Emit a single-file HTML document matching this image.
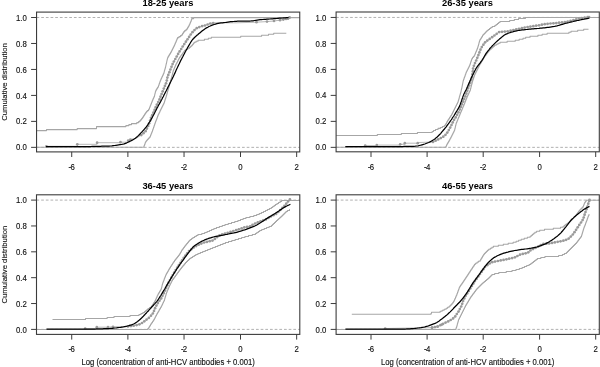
<!DOCTYPE html>
<html><head><meta charset="utf-8"><style>
html,body{margin:0;padding:0;background:#fff;width:600px;height:367px;overflow:hidden}
svg{display:block;will-change:transform;filter:blur(0.3px)}
text{font-family:"Liberation Sans",sans-serif;fill:#111;stroke:#111;stroke-width:0.12px}
.tk{font-size:7.8px}
.ti{font-size:9.35px;font-weight:bold;fill:#000;stroke:none}
.yl{font-size:7.7px}
.xl{font-size:7.7px}
</style></head><body>
<svg width="600" height="367" viewBox="0 0 600 367">
<rect width="600" height="367" fill="#fff"/>
<line x1="36.55" y1="147.35" x2="299.8" y2="147.35" stroke="#a8a8a8" stroke-width="0.9" stroke-dasharray="2.7 1.97"/>
<line x1="36.55" y1="17.5" x2="299.8" y2="17.5" stroke="#a8a8a8" stroke-width="0.9" stroke-dasharray="2.7 1.97"/>
<polyline points="36.5,130.6 46.5,130.6 46.5,129.6 77.2,129.6 77.2,128.6 96.5,128.6 96.5,127.6 96.5,127.6 96.5,126.6 125.9,126.6 125.9,125.6 128.9,125.6 128.9,124.6 131.5,124.6 131.5,123.6 136.8,123.6 136.8,122.6 138.6,122.6 138.6,121.6 139.9,121.6 139.9,120.6 140.8,120.6 140.8,119.6 141.6,119.6 141.6,118.6 142.4,118.6 142.4,117.6 143.1,117.6 143.1,116.6 143.7,116.6 143.7,115.6 144.4,115.6 144.4,114.6 145.0,114.6 145.0,113.6 145.7,113.6 145.7,112.6 146.4,112.6 146.4,111.6 147.3,111.6 147.3,110.6 148.5,110.6 148.5,109.6 149.1,109.6 149.1,108.6 149.5,108.6 149.5,107.6 149.9,107.6 149.9,106.6 150.3,106.6 150.3,105.6 150.7,105.6 150.7,104.6 151.1,104.6 151.1,103.6 151.5,103.6 151.5,102.6 151.9,102.6 151.9,101.6 152.3,101.6 152.3,100.6 152.7,100.6 152.7,99.6 153.1,99.6 153.1,98.6 153.6,98.6 153.6,97.6 154.0,97.6 154.0,96.6 154.5,96.6 154.5,95.6 154.7,95.6 154.7,94.6 154.9,94.6 154.9,93.6 155.2,93.6 155.2,92.6 155.4,92.6 155.4,91.6 155.7,91.6 155.7,90.6 156.2,90.6 156.2,89.6 156.8,89.6 156.8,88.6 157.4,88.6 157.4,87.6 158.1,87.6 158.1,86.6 158.5,86.6 158.5,85.6 158.9,85.6 158.9,84.6 159.2,84.6 159.2,83.6 159.6,83.6 159.6,82.6 159.9,82.6 159.9,81.6 160.3,81.6 160.3,80.6 160.7,80.6 160.7,79.6 161.1,79.6 161.1,78.6 161.6,78.6 161.6,77.6 162.0,77.6 162.0,76.6 162.5,76.6 162.5,75.6 163.0,75.6 163.0,74.6 163.4,74.6 163.4,73.6 163.9,73.6 163.9,72.6 164.2,72.6 164.2,71.6 164.4,71.6 164.4,70.6 164.7,70.6 164.7,69.6 165.0,69.6 165.0,68.6 165.3,68.6 165.3,67.6 165.6,67.6 165.6,66.6 165.8,66.6 165.8,65.6 166.0,65.6 166.0,64.6 166.2,64.6 166.2,63.6 166.5,63.6 166.5,62.6 166.7,62.6 166.7,61.6 166.9,61.6 166.9,60.6 167.1,60.6 167.1,59.6 167.4,59.6 167.4,58.6 167.6,58.6 167.6,57.6 168.1,57.6 168.1,56.6 168.7,56.6 168.7,55.6 169.3,55.6 169.3,54.6 169.9,54.6 169.9,53.6 170.5,53.6 170.5,52.6 171.1,52.6 171.1,51.6 171.6,51.6 171.6,50.6 172.1,50.6 172.1,49.6 172.6,49.6 172.6,48.6 173.1,48.6 173.1,47.6 173.6,47.6 173.6,46.6 174.1,46.6 174.1,45.6 174.6,45.6 174.6,44.6 175.0,44.6 175.0,43.6 175.4,43.6 175.4,42.6 175.9,42.6 175.9,41.6 176.3,41.6 176.3,40.6 176.7,40.6 176.7,39.6 177.1,39.6 177.1,38.6 177.6,38.6 177.6,37.6 179.0,37.6 179.0,36.6 180.5,36.6 180.5,35.6 181.9,35.6 181.9,34.6 182.5,34.6 182.5,33.6 183.2,33.6 183.2,32.6 183.8,32.6 183.8,31.6 184.7,31.6 184.7,30.6 186.0,30.6 186.0,29.6 187.0,29.6 187.0,28.6 187.6,28.6 187.6,27.6 188.2,27.6 188.2,26.6 188.8,26.6 188.8,25.6 189.3,25.6 189.3,24.6 189.8,24.6 189.8,23.6 190.2,23.6 190.2,22.6 190.6,22.6 190.6,21.6 191.1,21.6 191.1,20.6 191.4,20.6 191.4,19.6 191.7,19.6 191.7,18.6 193.6,18.6 193.6,17.6 299.8,17.6" fill="none" stroke="#a6a6a6" stroke-width="1.05" stroke-linejoin="round"/>
<polyline points="36.5,147.3 143.9,147.3 143.9,146.3 144.2,146.3 144.2,145.3 144.6,145.3 144.6,144.3 145.0,144.3 145.0,143.3 145.3,143.3 145.3,142.3 145.8,142.3 145.8,141.3 146.6,141.3 146.6,140.3 147.4,140.3 147.4,139.3 148.4,139.3 148.4,138.3 149.3,138.3 149.3,137.3 150.1,137.3 150.1,136.3 150.5,136.3 150.5,135.3 150.9,135.3 150.9,134.3 151.3,134.3 151.3,133.3 151.7,133.3 151.7,132.3 152.1,132.3 152.1,131.3 152.5,131.3 152.5,130.3 152.8,130.3 152.8,129.3 153.2,129.3 153.2,128.3 153.5,128.3 153.5,127.3 153.9,127.3 153.9,126.3 154.2,126.3 154.2,125.3 154.6,125.3 154.6,124.3 154.9,124.3 154.9,123.3 155.3,123.3 155.3,122.3 155.6,122.3 155.6,121.3 156.0,121.3 156.0,120.3 156.4,120.3 156.4,119.3 156.8,119.3 156.8,118.3 157.2,118.3 157.2,117.3 157.5,117.3 157.5,116.3 157.9,116.3 157.9,115.3 158.3,115.3 158.3,114.3 158.8,114.3 158.8,113.3 159.3,113.3 159.3,112.3 159.8,112.3 159.8,111.3 160.2,111.3 160.2,110.3 160.7,110.3 160.7,109.3 161.2,109.3 161.2,108.3 161.7,108.3 161.7,107.3 162.2,107.3 162.2,106.3 162.7,106.3 162.7,105.3 163.2,105.3 163.2,104.3 163.7,104.3 163.7,103.3 164.2,103.3 164.2,102.3 164.5,102.3 164.5,101.3 164.8,101.3 164.8,100.3 165.1,100.3 165.1,99.3 165.4,99.3 165.4,98.3 165.8,98.3 165.8,97.3 166.1,97.3 166.1,96.3 166.4,96.3 166.4,95.3 166.7,95.3 166.7,94.3 167.0,94.3 167.0,93.3 167.3,93.3 167.3,92.3 167.5,92.3 167.5,91.3 167.8,91.3 167.8,90.3 168.1,90.3 168.1,89.3 168.4,89.3 168.4,88.3 168.7,88.3 168.7,87.3 169.0,87.3 169.0,86.3 169.3,86.3 169.3,85.3 169.5,85.3 169.5,84.3 169.8,84.3 169.8,83.3 170.1,83.3 170.1,82.3 170.4,82.3 170.4,81.3 170.7,81.3 170.7,80.3 170.9,80.3 170.9,79.3 171.2,79.3 171.2,78.3 171.5,78.3 171.5,77.3 171.7,77.3 171.7,76.3 172.0,76.3 172.0,75.3 172.3,75.3 172.3,74.3 172.5,74.3 172.5,73.3 172.8,73.3 172.8,72.3 173.0,72.3 173.0,71.3 173.3,71.3 173.3,70.3 173.7,70.3 173.7,69.3 174.1,69.3 174.1,68.3 174.5,68.3 174.5,67.3 175.0,67.3 175.0,66.3 175.4,66.3 175.4,65.3 175.8,65.3 175.8,64.3 176.3,64.3 176.3,63.3 176.9,63.3 176.9,62.3 177.4,62.3 177.4,61.3 177.9,61.3 177.9,60.3 178.4,60.3 178.4,59.3 178.9,59.3 178.9,58.3 179.5,58.3 179.5,57.3 180.3,57.3 180.3,56.3 181.0,56.3 181.0,55.3 181.7,55.3 181.7,54.3 182.5,54.3 182.5,53.3 183.2,53.3 183.2,52.3 183.9,52.3 183.9,51.3 184.6,51.3 184.6,50.3 186.0,50.3 186.0,49.3 187.8,49.3 187.8,48.3 189.5,48.3 189.5,47.3 190.6,47.3 190.6,46.3 191.7,46.3 191.7,45.3 192.6,45.3 192.6,44.3 193.4,44.3 193.4,43.3 194.2,43.3 194.2,42.3 196.0,42.3 196.0,41.3 198.0,41.3 198.0,40.3 204.4,40.3 204.4,39.3 208.3,39.3 208.3,38.3 211.3,38.3 211.3,37.3 240.7,37.3 240.7,36.3 261.6,36.3 261.6,35.3 268.5,35.3 268.5,34.3 273.7,34.3 273.7,33.3 286.3,33.3" fill="none" stroke="#a6a6a6" stroke-width="1.05" stroke-linejoin="round"/>
<polyline points="46.4,146.3 77.3,146.3 77.3,144.3 97.1,144.3 97.1,142.7 120.5,142.7 120.5,142.2 128.2,142.2 128.2,140.5 130.4,140.5 130.4,139.5 135.8,138.4 141.3,135.1 145.6,131.3 148.7,125.0 150.7,118.5 153.6,112.2 156.5,105.5 159.3,99.8 161.2,95.0 163.1,90.4 166.4,82.3 167.6,76.5 169.6,71.6 173.1,63.0 178.3,53.5 183.5,45.3 187.5,39.2 191.5,33.3 196.0,28.5 200.6,26.5 205.6,25.3 210.6,23.4 214.3,22.8 236.7,22.8 256.5,22.2 267.0,21.6 274.0,21.0 283.3,19.6 288.0,18.7 289.5,17.5" fill="none" stroke="#b0b0b0" stroke-width="0.9"/>
<g fill="#9a9a9a"><circle cx="46.4" cy="146.3" r="1.35"/><circle cx="77.3" cy="144.3" r="1.35"/><circle cx="97.1" cy="142.7" r="1.35"/><circle cx="120.5" cy="142.2" r="1.35"/><circle cx="128.2" cy="140.5" r="1.35"/><circle cx="130.4" cy="139.5" r="1.35"/><circle cx="141.3" cy="135.1" r="1.35"/><circle cx="143.5" cy="133.2" r="1.35"/><circle cx="145.6" cy="131.2" r="1.35"/><circle cx="146.9" cy="128.6" r="1.35"/><circle cx="148.2" cy="126.0" r="1.35"/><circle cx="149.2" cy="123.3" r="1.35"/><circle cx="150.1" cy="120.6" r="1.35"/><circle cx="151.0" cy="117.8" r="1.35"/><circle cx="152.2" cy="115.2" r="1.35"/><circle cx="153.4" cy="112.6" r="1.35"/><circle cx="154.6" cy="109.9" r="1.35"/><circle cx="155.7" cy="107.2" r="1.35"/><circle cx="156.9" cy="104.6" r="1.35"/><circle cx="158.2" cy="102.0" r="1.35"/><circle cx="159.5" cy="99.4" r="1.35"/><circle cx="160.5" cy="96.7" r="1.35"/><circle cx="161.6" cy="94.0" r="1.35"/><circle cx="162.7" cy="91.3" r="1.35"/><circle cx="163.8" cy="88.6" r="1.35"/><circle cx="164.9" cy="85.9" r="1.35"/><circle cx="166.0" cy="83.3" r="1.35"/><circle cx="166.8" cy="80.5" r="1.35"/><circle cx="167.4" cy="77.6" r="1.35"/><circle cx="168.3" cy="74.9" r="1.35"/><circle cx="169.4" cy="72.2" r="1.35"/><circle cx="170.4" cy="69.5" r="1.35"/><circle cx="171.5" cy="66.8" r="1.35"/><circle cx="172.6" cy="64.1" r="1.35"/><circle cx="173.9" cy="61.5" r="1.35"/><circle cx="175.3" cy="59.0" r="1.35"/><circle cx="176.7" cy="56.5" r="1.35"/><circle cx="178.1" cy="53.9" r="1.35"/><circle cx="179.6" cy="51.4" r="1.35"/><circle cx="181.2" cy="49.0" r="1.35"/><circle cx="182.7" cy="46.5" r="1.35"/><circle cx="184.3" cy="44.1" r="1.35"/><circle cx="185.9" cy="41.7" r="1.35"/><circle cx="187.5" cy="39.3" r="1.35"/><circle cx="189.1" cy="36.9" r="1.35"/><circle cx="190.7" cy="34.5" r="1.35"/><circle cx="192.5" cy="32.2" r="1.35"/><circle cx="194.5" cy="30.1" r="1.35"/><circle cx="196.7" cy="28.2" r="1.35"/><circle cx="199.3" cy="27.1" r="1.35"/><circle cx="202.1" cy="26.1" r="1.35"/><circle cx="204.9" cy="25.5" r="1.35"/><circle cx="207.6" cy="24.5" r="1.35"/><circle cx="210.3" cy="23.5" r="1.35"/><circle cx="213.2" cy="23.0" r="1.35"/><circle cx="256.5" cy="22.2" r="1.35"/><circle cx="267.0" cy="21.6" r="1.35"/><circle cx="274.0" cy="21.0" r="1.35"/><circle cx="280.0" cy="20.2" r="1.35"/><circle cx="283.3" cy="19.6" r="1.35"/><circle cx="286.0" cy="19.0" r="1.35"/><circle cx="288.0" cy="18.7" r="1.35"/><circle cx="289.5" cy="17.5" r="1.35"/><circle cx="289.5" cy="17.5" r="1.35"/></g>
<polyline points="46.0,146.6 47.4,146.6 48.8,146.6 50.2,146.6 51.6,146.6 53.0,146.6 54.4,146.6 55.8,146.6 57.2,146.6 58.6,146.6 60.0,146.6 61.4,146.6 62.8,146.6 64.2,146.6 65.6,146.6 67.0,146.6 68.4,146.5 69.8,146.5 71.2,146.5 72.6,146.5 74.0,146.5 75.4,146.5 76.8,146.5 78.2,146.5 79.6,146.5 81.0,146.5 82.4,146.5 83.8,146.5 85.2,146.5 86.6,146.5 88.0,146.5 89.4,146.5 90.8,146.5 92.2,146.4 93.6,146.4 95.0,146.4 96.4,146.4 97.8,146.3 99.2,146.3 100.6,146.3 102.0,146.2 103.4,146.2 104.8,146.2 106.2,146.1 107.6,146.1 109.0,146.1 110.4,146.0 111.8,145.9 113.2,145.7 114.6,145.5 115.9,145.3 117.3,145.1 118.7,144.9 120.1,144.7 121.5,144.5 122.8,144.2 124.2,143.8 125.5,143.3 126.8,142.8 128.0,142.2 129.3,141.6 130.6,141.0 131.8,140.4 133.0,139.7 134.2,139.0 135.4,138.2 136.5,137.3 137.6,136.4 138.6,135.5 139.5,134.5 140.5,133.4 141.4,132.4 142.4,131.4 143.3,130.3 144.2,129.3 145.2,128.2 146.1,127.2 146.9,126.0 147.7,124.9 148.5,123.7 149.2,122.5 150.0,121.4 150.7,120.2 151.4,118.9 152.1,117.7 152.7,116.5 153.4,115.3 154.1,114.0 154.7,112.8 155.3,111.5 156.0,110.3 156.6,109.0 157.2,107.8 157.9,106.6 158.5,105.3 159.2,104.1 159.9,102.9 160.6,101.6 161.2,100.4 161.9,99.2 162.5,97.9 163.2,96.7 163.8,95.4 164.4,94.2 165.1,92.9 165.7,91.7 166.4,90.5 167.0,89.2 167.6,87.9 168.2,86.7 168.9,85.4 169.5,84.2 170.1,82.9 170.7,81.7 171.3,80.4 172.0,79.2 172.6,77.9 173.2,76.7 173.8,75.4 174.4,74.1 175.0,72.9 175.6,71.6 176.1,70.3 176.7,69.0 177.3,67.8 177.9,66.5 178.5,65.2 179.1,64.0 179.7,62.7 180.3,61.4 180.9,60.2 181.6,58.9 182.2,57.7 182.9,56.5 183.5,55.2 184.2,54.0 184.8,52.7 185.5,51.5 186.1,50.3 186.8,49.1 187.5,47.8 188.2,46.6 188.9,45.4 189.6,44.2 190.3,43.0 191.0,41.8 191.8,40.6 192.6,39.5 193.6,38.5 194.5,37.5 195.6,36.5 196.6,35.6 197.7,34.7 198.7,33.8 199.8,32.9 200.9,32.0 202.0,31.1 203.1,30.2 204.2,29.4 205.4,28.6 206.5,27.9 207.8,27.2 209.0,26.5 210.3,26.0 211.5,25.4 212.9,24.9 214.2,24.5 215.5,24.1 216.9,23.7 218.2,23.4 219.6,23.1 221.0,22.9 222.4,22.8 223.8,22.6 225.2,22.5 226.5,22.3 227.9,22.1 229.3,21.9 230.7,21.7 232.1,21.6 233.5,21.5 234.9,21.4 236.3,21.3 237.7,21.2 239.1,21.2 240.5,21.1 241.9,21.1 243.3,21.1 244.7,21.1 246.1,21.0 247.5,21.0 248.9,21.0 250.3,21.0 251.7,20.9 253.1,20.8 254.4,20.5 255.8,20.3 257.2,20.1 258.6,19.9 260.0,19.7 261.4,19.6 262.8,19.5 264.2,19.4 265.6,19.3 267.0,19.2 268.4,19.1 269.7,19.0 271.1,18.9 272.5,18.8 273.9,18.7 275.3,18.6 276.7,18.5 278.1,18.3 279.5,18.2 280.9,18.1 282.3,18.0 283.7,17.9 285.1,17.8 286.4,17.7 287.6,17.6 288.6,17.5" fill="none" stroke="#000" stroke-width="1.25" stroke-linejoin="round"/>
<rect x="36.55" y="12.1" width="263.2" height="139.8" fill="none" stroke="#3c3c3c" stroke-width="1.1"/>
<line x1="31.1" y1="147.35" x2="36.55" y2="147.35" stroke="#3c3c3c" stroke-width="1"/>
<text transform="translate(26.85,150.45) scale(1,1.06)" text-anchor="end" class="tk">0.0</text>
<line x1="31.1" y1="121.38" x2="36.55" y2="121.38" stroke="#3c3c3c" stroke-width="1"/>
<text transform="translate(26.85,124.48) scale(1,1.06)" text-anchor="end" class="tk">0.2</text>
<line x1="31.1" y1="95.41" x2="36.55" y2="95.41" stroke="#3c3c3c" stroke-width="1"/>
<text transform="translate(26.85,98.51) scale(1,1.06)" text-anchor="end" class="tk">0.4</text>
<line x1="31.1" y1="69.44" x2="36.55" y2="69.44" stroke="#3c3c3c" stroke-width="1"/>
<text transform="translate(26.85,72.54) scale(1,1.06)" text-anchor="end" class="tk">0.6</text>
<line x1="31.1" y1="43.47" x2="36.55" y2="43.47" stroke="#3c3c3c" stroke-width="1"/>
<text transform="translate(26.85,46.57) scale(1,1.06)" text-anchor="end" class="tk">0.8</text>
<line x1="31.1" y1="17.50" x2="36.55" y2="17.50" stroke="#3c3c3c" stroke-width="1"/>
<text transform="translate(26.85,20.60) scale(1,1.06)" text-anchor="end" class="tk">1.0</text>
<line x1="71.72" y1="151.85" x2="71.72" y2="157.0" stroke="#3c3c3c" stroke-width="1"/>
<text transform="translate(71.72,169.85) scale(1,1.06)" text-anchor="middle" class="tk">-<tspan dx="-0.6">6</tspan></text>
<line x1="127.88" y1="151.85" x2="127.88" y2="157.0" stroke="#3c3c3c" stroke-width="1"/>
<text transform="translate(127.88,169.85) scale(1,1.06)" text-anchor="middle" class="tk">-<tspan dx="-0.6">4</tspan></text>
<line x1="184.04" y1="151.85" x2="184.04" y2="157.0" stroke="#3c3c3c" stroke-width="1"/>
<text transform="translate(184.04,169.85) scale(1,1.06)" text-anchor="middle" class="tk">-<tspan dx="-0.6">2</tspan></text>
<line x1="240.50" y1="151.85" x2="240.50" y2="157.0" stroke="#3c3c3c" stroke-width="1"/>
<text transform="translate(240.50,169.85) scale(1,1.06)" text-anchor="middle" class="tk">0</text>
<line x1="296.66" y1="151.85" x2="296.66" y2="157.0" stroke="#3c3c3c" stroke-width="1"/>
<text transform="translate(296.66,169.85) scale(1,1.06)" text-anchor="middle" class="tk">2</text>
<text transform="translate(167.88,6.30) scale(1,1.06)" text-anchor="middle" class="ti">18-25 years</text>
<text transform="translate(6.9,81.97) rotate(-90)" text-anchor="middle" class="yl">Cumulative distribution</text>
<line x1="336.1" y1="147.35" x2="599.3" y2="147.35" stroke="#a8a8a8" stroke-width="0.9" stroke-dasharray="2.7 1.97"/>
<line x1="336.1" y1="17.45" x2="599.3" y2="17.45" stroke="#a8a8a8" stroke-width="0.9" stroke-dasharray="2.7 1.97"/>
<polyline points="336.1,135.4 377.3,135.4 377.3,134.4 401.3,134.4 401.3,133.4 417.4,133.4 417.4,132.4 432.1,132.4 432.1,131.4 433.5,131.4 433.5,130.4 435.5,130.4 435.5,129.4 438.0,129.4 438.0,128.4 440.4,128.4 440.4,127.4 442.4,127.4 442.4,126.4 444.3,126.4 444.3,125.4 445.3,125.4 445.3,124.4 445.9,124.4 445.9,123.4 446.5,123.4 446.5,122.4 447.0,122.4 447.0,121.4 447.6,121.4 447.6,120.4 448.2,120.4 448.2,119.4 448.9,119.4 448.9,118.4 449.5,118.4 449.5,117.4 450.2,117.4 450.2,116.4 450.8,116.4 450.8,115.4 451.5,115.4 451.5,114.4 452.0,114.4 452.0,113.4 452.5,113.4 452.5,112.4 453.0,112.4 453.0,111.4 453.5,111.4 453.5,110.4 454.0,110.4 454.0,109.4 454.5,109.4 454.5,108.4 455.0,108.4 455.0,107.4 455.5,107.4 455.5,106.4 456.0,106.4 456.0,105.4 456.5,105.4 456.5,104.4 457.0,104.4 457.0,103.4 457.5,103.4 457.5,102.4 458.0,102.4 458.0,101.4 458.3,101.4 458.3,100.4 458.6,100.4 458.6,99.4 458.9,99.4 458.9,98.4 459.2,98.4 459.2,97.4 459.4,97.4 459.4,96.4 459.7,96.4 459.7,95.4 460.0,95.4 460.0,94.4 460.3,94.4 460.3,93.4 460.6,93.4 460.6,92.4 460.9,92.4 460.9,91.4 461.1,91.4 461.1,90.4 461.3,90.4 461.3,89.4 461.5,89.4 461.5,88.4 461.8,88.4 461.8,87.4 462.0,87.4 462.0,86.4 462.2,86.4 462.2,85.4 462.4,85.4 462.4,84.4 462.6,84.4 462.6,83.4 462.8,83.4 462.8,82.4 463.0,82.4 463.0,81.4 463.2,81.4 463.2,80.4 463.5,80.4 463.5,79.4 463.9,79.4 463.9,78.4 464.2,78.4 464.2,77.4 464.6,77.4 464.6,76.4 465.0,76.4 465.0,75.4 465.3,75.4 465.3,74.4 465.7,74.4 465.7,73.4 466.0,73.4 466.0,72.4 466.4,72.4 466.4,71.4 466.9,71.4 466.9,70.4 467.4,70.4 467.4,69.4 467.9,69.4 467.9,68.4 468.4,68.4 468.4,67.4 468.9,67.4 468.9,66.4 469.4,66.4 469.4,65.4 469.8,65.4 469.8,64.4 470.2,64.4 470.2,63.4 470.5,63.4 470.5,62.4 470.8,62.4 470.8,61.4 471.2,61.4 471.2,60.4 471.5,60.4 471.5,59.4 471.9,59.4 471.9,58.4 472.5,58.4 472.5,57.4 473.3,57.4 473.3,56.4 474.2,56.4 474.2,55.4 474.7,55.4 474.7,54.4 475.1,54.4 475.1,53.4 475.5,53.4 475.5,52.4 475.9,52.4 475.9,51.4 476.4,51.4 476.4,50.4 476.8,50.4 476.8,49.4 477.2,49.4 477.2,48.4 477.6,48.4 477.6,47.4 477.9,47.4 477.9,46.4 478.2,46.4 478.2,45.4 478.5,45.4 478.5,44.4 478.8,44.4 478.8,43.4 479.0,43.4 479.0,42.4 479.3,42.4 479.3,41.4 479.6,41.4 479.6,40.4 480.0,40.4 480.0,39.4 480.7,39.4 480.7,38.4 481.3,38.4 481.3,37.4 481.9,37.4 481.9,36.4 482.5,36.4 482.5,35.4 483.1,35.4 483.1,34.4 484.1,34.4 484.1,33.4 485.1,33.4 485.1,32.4 486.0,32.4 486.0,31.4 487.0,31.4 487.0,30.4 488.2,30.4 488.2,29.4 489.5,29.4 489.5,28.4 490.8,28.4 490.8,27.4 492.2,27.4 492.2,26.4 494.8,26.4 494.8,25.4 496.1,25.4 496.1,24.4 497.4,24.4 497.4,23.4 498.6,23.4 498.6,22.4 499.9,22.4 499.9,21.4 509.7,21.4 509.7,20.4 514.3,20.4 514.3,19.4 518.5,19.4 518.5,18.4 525.4,18.4 525.4,17.4 599.3,17.4" fill="none" stroke="#a6a6a6" stroke-width="1.05" stroke-linejoin="round"/>
<polyline points="336.1,147.3 445.9,147.3 445.9,146.3 446.4,146.3 446.4,145.3 446.8,145.3 446.8,144.3 447.4,144.3 447.4,143.3 448.0,143.3 448.0,142.3 448.6,142.3 448.6,141.3 449.2,141.3 449.2,140.3 449.7,140.3 449.7,139.3 450.2,139.3 450.2,138.3 450.8,138.3 450.8,137.3 451.3,137.3 451.3,136.3 451.8,136.3 451.8,135.3 452.3,135.3 452.3,134.3 452.8,134.3 452.8,133.3 453.3,133.3 453.3,132.3 453.8,132.3 453.8,131.3 454.3,131.3 454.3,130.3 454.7,130.3 454.7,129.3 454.9,129.3 454.9,128.3 455.2,128.3 455.2,127.3 455.4,127.3 455.4,126.3 455.6,126.3 455.6,125.3 455.9,125.3 455.9,124.3 456.1,124.3 456.1,123.3 456.4,123.3 456.4,122.3 456.9,122.3 456.9,121.3 457.3,121.3 457.3,120.3 457.7,120.3 457.7,119.3 458.1,119.3 458.1,118.3 458.5,118.3 458.5,117.3 459.0,117.3 459.0,116.3 459.4,116.3 459.4,115.3 459.8,115.3 459.8,114.3 460.2,114.3 460.2,113.3 460.6,113.3 460.6,112.3 461.0,112.3 461.0,111.3 461.5,111.3 461.5,110.3 461.9,110.3 461.9,109.3 462.3,109.3 462.3,108.3 462.7,108.3 462.7,107.3 463.1,107.3 463.1,106.3 463.6,106.3 463.6,105.3 464.0,105.3 464.0,104.3 464.4,104.3 464.4,103.3 464.8,103.3 464.8,102.3 465.2,102.3 465.2,101.3 465.6,101.3 465.6,100.3 466.0,100.3 466.0,99.3 466.4,99.3 466.4,98.3 466.8,98.3 466.8,97.3 467.2,97.3 467.2,96.3 467.6,96.3 467.6,95.3 468.1,95.3 468.1,94.3 468.6,94.3 468.6,93.3 469.0,93.3 469.0,92.3 469.5,92.3 469.5,91.3 470.0,91.3 470.0,90.3 470.4,90.3 470.4,89.3 470.6,89.3 470.6,88.3 470.9,88.3 470.9,87.3 471.1,87.3 471.1,86.3 471.4,86.3 471.4,85.3 471.6,85.3 471.6,84.3 471.9,84.3 471.9,83.3 472.2,83.3 472.2,82.3 472.4,82.3 472.4,81.3 472.7,81.3 472.7,80.3 473.0,80.3 473.0,79.3 473.4,79.3 473.4,78.3 473.7,78.3 473.7,77.3 474.0,77.3 474.0,76.3 474.4,76.3 474.4,75.3 474.7,75.3 474.7,74.3 475.2,74.3 475.2,73.3 475.7,73.3 475.7,72.3 476.2,72.3 476.2,71.3 476.7,71.3 476.7,70.3 477.2,70.3 477.2,69.3 477.7,69.3 477.7,68.3 478.2,68.3 478.2,67.3 478.7,67.3 478.7,66.3 479.2,66.3 479.2,65.3 479.7,65.3 479.7,64.3 480.3,64.3 480.3,63.3 480.9,63.3 480.9,62.3 481.5,62.3 481.5,61.3 482.1,61.3 482.1,60.3 482.7,60.3 482.7,59.3 483.3,59.3 483.3,58.3 483.9,58.3 483.9,57.3 484.5,57.3 484.5,56.3 485.2,56.3 485.2,55.3 486.0,55.3 486.0,54.3 486.7,54.3 486.7,53.3 487.5,53.3 487.5,52.3 488.2,52.3 488.2,51.3 489.0,51.3 489.0,50.3 489.9,50.3 489.9,49.3 491.1,49.3 491.1,48.3 492.2,48.3 492.2,47.3 493.3,47.3 493.3,46.3 494.5,46.3 494.5,45.3 496.1,45.3 496.1,44.3 498.0,44.3 498.0,43.3 500.0,43.3 500.0,42.3 507.1,42.3 507.1,41.3 515.2,41.3 515.2,40.3 519.1,40.3 519.1,39.3 523.0,39.3 523.0,38.3 525.7,38.3 525.7,37.3 530.0,37.3 530.0,36.3 537.9,36.3 537.9,35.3 542.1,35.3 542.1,34.3 547.1,34.3 547.1,33.3 568.9,33.3 568.9,32.3 571.0,32.3 571.0,31.3 577.7,31.3 577.7,30.3 583.7,30.3 583.7,29.3 588.5,29.3" fill="none" stroke="#a6a6a6" stroke-width="1.05" stroke-linejoin="round"/>
<polyline points="365.2,145.6 376.8,145.6 376.8,145.1 400.2,145.1 400.2,144.3 404.8,144.3 404.8,143.2 417.7,143.2 419.0,142.5 433.0,142.0 438.0,139.5 443.0,137.0 446.5,134.0 449.8,128.5 453.1,121.5 456.5,116.0 459.5,110.0 462.5,103.0 465.9,94.7 469.0,86.0 472.0,78.0 473.3,67.1 477.6,57.2 480.9,48.5 485.3,42.0 490.7,38.2 495.0,35.1 498.9,32.1 508.7,31.2 514.6,29.7 519.5,28.7 526.4,27.2 532.3,26.3 539.1,25.3 544.0,24.3 550.0,23.5 557.0,23.0 565.0,22.0 570.0,21.0 580.0,18.5 589.0,17.0" fill="none" stroke="#b0b0b0" stroke-width="0.9"/>
<g fill="#9a9a9a"><circle cx="365.2" cy="145.6" r="1.35"/><circle cx="376.8" cy="145.1" r="1.35"/><circle cx="400.2" cy="144.3" r="1.35"/><circle cx="404.8" cy="143.2" r="1.35"/><circle cx="417.7" cy="143.2" r="1.35"/><circle cx="433.0" cy="142.0" r="1.35"/><circle cx="435.6" cy="140.7" r="1.35"/><circle cx="438.2" cy="139.4" r="1.35"/><circle cx="440.8" cy="138.1" r="1.35"/><circle cx="443.3" cy="136.7" r="1.35"/><circle cx="445.5" cy="134.8" r="1.35"/><circle cx="447.3" cy="132.6" r="1.35"/><circle cx="448.8" cy="130.1" r="1.35"/><circle cx="450.2" cy="127.6" r="1.35"/><circle cx="451.5" cy="125.0" r="1.35"/><circle cx="452.7" cy="122.4" r="1.35"/><circle cx="454.1" cy="119.8" r="1.35"/><circle cx="455.7" cy="117.4" r="1.35"/><circle cx="457.1" cy="114.8" r="1.35"/><circle cx="458.4" cy="112.3" r="1.35"/><circle cx="459.7" cy="109.6" r="1.35"/><circle cx="460.8" cy="107.0" r="1.35"/><circle cx="461.9" cy="104.3" r="1.35"/><circle cx="463.1" cy="101.6" r="1.35"/><circle cx="464.2" cy="99.0" r="1.35"/><circle cx="465.3" cy="96.3" r="1.35"/><circle cx="466.3" cy="93.6" r="1.35"/><circle cx="467.3" cy="90.8" r="1.35"/><circle cx="468.2" cy="88.1" r="1.35"/><circle cx="469.2" cy="85.4" r="1.35"/><circle cx="470.3" cy="82.7" r="1.35"/><circle cx="471.3" cy="79.9" r="1.35"/><circle cx="472.1" cy="77.2" r="1.35"/><circle cx="472.4" cy="74.3" r="1.35"/><circle cx="472.8" cy="71.4" r="1.35"/><circle cx="473.1" cy="68.5" r="1.35"/><circle cx="473.9" cy="65.8" r="1.35"/><circle cx="475.0" cy="63.1" r="1.35"/><circle cx="476.2" cy="60.5" r="1.35"/><circle cx="477.3" cy="57.8" r="1.35"/><circle cx="478.4" cy="55.1" r="1.35"/><circle cx="479.4" cy="52.4" r="1.35"/><circle cx="480.5" cy="49.7" r="1.35"/><circle cx="481.8" cy="47.1" r="1.35"/><circle cx="483.4" cy="44.7" r="1.35"/><circle cx="485.1" cy="42.3" r="1.35"/><circle cx="487.3" cy="40.6" r="1.35"/><circle cx="489.7" cy="38.9" r="1.35"/><circle cx="492.1" cy="37.2" r="1.35"/><circle cx="494.4" cy="35.5" r="1.35"/><circle cx="496.7" cy="33.8" r="1.35"/><circle cx="499.1" cy="32.1" r="1.35"/><circle cx="502.0" cy="31.8" r="1.35"/><circle cx="504.8" cy="31.6" r="1.35"/><circle cx="507.7" cy="31.3" r="1.35"/><circle cx="510.6" cy="30.7" r="1.35"/><circle cx="513.4" cy="30.0" r="1.35"/><circle cx="516.2" cy="29.4" r="1.35"/><circle cx="519.0" cy="28.8" r="1.35"/><circle cx="521.9" cy="28.2" r="1.35"/><circle cx="524.7" cy="27.6" r="1.35"/><circle cx="527.6" cy="27.0" r="1.35"/><circle cx="530.4" cy="26.6" r="1.35"/><circle cx="533.3" cy="26.2" r="1.35"/><circle cx="536.2" cy="25.7" r="1.35"/><circle cx="539.0" cy="25.3" r="1.35"/><circle cx="541.9" cy="24.7" r="1.35"/><circle cx="544.7" cy="24.2" r="1.35"/><circle cx="547.6" cy="23.8" r="1.35"/><circle cx="550.5" cy="23.5" r="1.35"/><circle cx="553.4" cy="23.3" r="1.35"/><circle cx="556.3" cy="23.1" r="1.35"/><circle cx="559.1" cy="22.7" r="1.35"/><circle cx="562.0" cy="22.4" r="1.35"/><circle cx="564.9" cy="22.0" r="1.35"/><circle cx="567.7" cy="21.5" r="1.35"/><circle cx="570.6" cy="20.9" r="1.35"/><circle cx="573.4" cy="20.2" r="1.35"/><circle cx="576.2" cy="19.4" r="1.35"/><circle cx="579.0" cy="18.7" r="1.35"/><circle cx="581.9" cy="18.2" r="1.35"/><circle cx="584.7" cy="17.7" r="1.35"/><circle cx="587.6" cy="17.2" r="1.35"/><circle cx="589.0" cy="17.0" r="1.35"/></g>
<polyline points="345.3,146.7 346.7,146.7 348.1,146.7 349.5,146.7 350.9,146.7 352.3,146.7 353.7,146.7 355.1,146.7 356.5,146.7 357.9,146.7 359.3,146.6 360.7,146.6 362.1,146.6 363.5,146.6 364.9,146.6 366.3,146.6 367.7,146.6 369.1,146.6 370.5,146.6 371.9,146.6 373.3,146.6 374.7,146.6 376.1,146.6 377.5,146.6 378.9,146.6 380.3,146.6 381.7,146.6 383.1,146.6 384.5,146.6 385.9,146.6 387.3,146.5 388.7,146.5 390.1,146.5 391.5,146.5 392.9,146.5 394.3,146.5 395.7,146.5 397.1,146.5 398.5,146.5 399.9,146.5 401.3,146.5 402.7,146.5 404.1,146.4 405.5,146.4 406.9,146.4 408.3,146.4 409.7,146.4 411.1,146.4 412.5,146.3 413.9,146.3 415.3,146.2 416.7,146.0 418.1,145.8 419.4,145.5 420.8,145.2 422.1,144.8 423.5,144.4 424.8,144.0 426.1,143.5 427.4,143.0 428.7,142.5 430.0,141.9 431.2,141.2 432.4,140.5 433.6,139.8 434.8,139.0 435.8,138.1 436.9,137.2 437.9,136.3 438.9,135.3 439.9,134.3 440.8,133.3 441.7,132.2 442.6,131.1 443.5,130.0 444.4,129.0 445.3,127.9 446.2,126.8 447.0,125.6 447.9,124.5 448.7,123.4 449.5,122.3 450.3,121.1 451.1,120.0 451.9,118.8 452.6,117.6 453.4,116.5 454.2,115.3 454.9,114.1 455.6,112.9 456.4,111.7 457.1,110.5 457.8,109.3 458.5,108.1 459.2,106.9 459.8,105.6 460.3,104.3 460.7,103.0 461.2,101.7 461.7,100.3 462.1,99.0 462.6,97.7 463.0,96.4 463.5,95.1 464.1,93.8 464.7,92.5 465.3,91.3 466.0,90.0 466.6,88.8 467.1,87.5 467.7,86.2 468.2,84.9 468.8,83.6 469.4,82.4 469.9,81.1 470.5,79.8 471.0,78.5 471.6,77.2 472.2,76.0 472.8,74.7 473.5,73.5 474.1,72.2 474.7,71.0 475.4,69.7 476.0,68.5 476.8,67.3 477.6,66.2 478.4,65.1 479.3,64.0 480.2,62.9 481.0,61.7 481.8,60.6 482.6,59.4 483.3,58.2 484.0,57.0 484.7,55.8 485.4,54.6 486.1,53.4 486.9,52.3 487.8,51.2 488.7,50.1 489.5,49.0 490.4,47.9 491.4,46.9 492.3,45.8 493.3,44.9 494.3,43.9 495.3,42.9 496.3,41.9 497.3,41.0 498.4,40.1 499.4,39.1 500.5,38.2 501.6,37.3 502.6,36.4 503.7,35.6 504.9,34.8 506.1,34.1 507.4,33.6 508.7,33.0 510.0,32.6 511.3,32.1 512.7,31.8 514.0,31.4 515.4,31.1 516.7,30.8 518.1,30.5 519.5,30.3 520.9,30.1 522.3,29.9 523.7,29.8 525.1,29.6 526.5,29.5 527.8,29.3 529.2,29.2 530.6,29.1 532.0,28.9 533.4,28.8 534.8,28.7 536.2,28.6 537.6,28.5 539.0,28.4 540.4,28.2 541.8,28.1 543.2,27.9 544.6,27.8 546.0,27.6 547.3,27.4 548.7,27.3 550.1,27.1 551.5,26.9 552.9,26.7 554.3,26.5 555.7,26.2 557.0,25.9 558.3,25.5 559.7,25.1 561.0,24.7 562.4,24.3 563.7,23.9 565.1,23.5 566.4,23.2 567.8,22.8 569.1,22.5 570.5,22.1 571.8,21.8 573.2,21.5 574.6,21.1 575.9,20.8 577.3,20.5 578.7,20.3 580.0,20.0 581.4,19.7 582.8,19.4 584.2,19.2 585.5,18.9 586.9,18.6 588.2,18.3 589.5,18.0" fill="none" stroke="#000" stroke-width="1.25" stroke-linejoin="round"/>
<rect x="336.1" y="12.0" width="263.2" height="139.8" fill="none" stroke="#3c3c3c" stroke-width="1.1"/>
<line x1="330.7" y1="147.35" x2="336.1" y2="147.35" stroke="#3c3c3c" stroke-width="1"/>
<text transform="translate(326.40,150.45) scale(1,1.06)" text-anchor="end" class="tk">0.0</text>
<line x1="330.7" y1="121.37" x2="336.1" y2="121.37" stroke="#3c3c3c" stroke-width="1"/>
<text transform="translate(326.40,124.47) scale(1,1.06)" text-anchor="end" class="tk">0.2</text>
<line x1="330.7" y1="95.39" x2="336.1" y2="95.39" stroke="#3c3c3c" stroke-width="1"/>
<text transform="translate(326.40,98.49) scale(1,1.06)" text-anchor="end" class="tk">0.4</text>
<line x1="330.7" y1="69.41" x2="336.1" y2="69.41" stroke="#3c3c3c" stroke-width="1"/>
<text transform="translate(326.40,72.51) scale(1,1.06)" text-anchor="end" class="tk">0.6</text>
<line x1="330.7" y1="43.43" x2="336.1" y2="43.43" stroke="#3c3c3c" stroke-width="1"/>
<text transform="translate(326.40,46.53) scale(1,1.06)" text-anchor="end" class="tk">0.8</text>
<line x1="330.7" y1="17.45" x2="336.1" y2="17.45" stroke="#3c3c3c" stroke-width="1"/>
<text transform="translate(326.40,20.55) scale(1,1.06)" text-anchor="end" class="tk">1.0</text>
<line x1="371.00" y1="151.85" x2="371.00" y2="157.0" stroke="#3c3c3c" stroke-width="1"/>
<text transform="translate(371.00,169.85) scale(1,1.06)" text-anchor="middle" class="tk">-<tspan dx="-0.6">6</tspan></text>
<line x1="427.10" y1="151.85" x2="427.10" y2="157.0" stroke="#3c3c3c" stroke-width="1"/>
<text transform="translate(427.10,169.85) scale(1,1.06)" text-anchor="middle" class="tk">-<tspan dx="-0.6">4</tspan></text>
<line x1="483.20" y1="151.85" x2="483.20" y2="157.0" stroke="#3c3c3c" stroke-width="1"/>
<text transform="translate(483.20,169.85) scale(1,1.06)" text-anchor="middle" class="tk">-<tspan dx="-0.6">2</tspan></text>
<line x1="539.60" y1="151.85" x2="539.60" y2="157.0" stroke="#3c3c3c" stroke-width="1"/>
<text transform="translate(539.60,169.85) scale(1,1.06)" text-anchor="middle" class="tk">0</text>
<line x1="595.70" y1="151.85" x2="595.70" y2="157.0" stroke="#3c3c3c" stroke-width="1"/>
<text transform="translate(595.70,169.85) scale(1,1.06)" text-anchor="middle" class="tk">2</text>
<text transform="translate(467.40,6.20) scale(1,1.06)" text-anchor="middle" class="ti">26-35 years</text>
<line x1="36.5" y1="329.4" x2="299.8" y2="329.4" stroke="#a8a8a8" stroke-width="0.9" stroke-dasharray="2.7 1.97"/>
<line x1="36.5" y1="200.1" x2="299.8" y2="200.1" stroke="#a8a8a8" stroke-width="0.9" stroke-dasharray="2.7 1.97"/>
<polyline points="52.5,319.5 85.5,319.5 85.5,318.5 107.1,318.5 107.1,317.5 114.0,317.5 114.0,316.5 130.0,316.5 130.0,315.5 139.0,315.5 139.0,314.5 141.0,314.5 141.0,313.5 142.9,313.5 142.9,312.5 144.5,312.5 144.5,311.5 145.7,311.5 145.7,310.5 146.9,310.5 146.9,309.5 148.0,309.5 148.0,308.5 149.5,308.5 149.5,307.5 151.1,307.5 151.1,306.5 151.8,306.5 151.8,305.5 152.6,305.5 152.6,304.5 153.2,304.5 153.2,303.5 153.8,303.5 153.8,302.5 154.5,302.5 154.5,301.5 155.0,301.5 155.0,300.5 155.5,300.5 155.5,299.5 156.0,299.5 156.0,298.5 156.4,298.5 156.4,297.5 156.9,297.5 156.9,296.5 157.3,296.5 157.3,295.5 157.8,295.5 157.8,294.5 158.3,294.5 158.3,293.5 158.9,293.5 158.9,292.5 159.5,292.5 159.5,291.5 160.1,291.5 160.1,290.5 160.7,290.5 160.7,289.5 161.2,289.5 161.2,288.5 161.5,288.5 161.5,287.5 161.8,287.5 161.8,286.5 162.0,286.5 162.0,285.5 162.2,285.5 162.2,284.5 162.5,284.5 162.5,283.5 162.8,283.5 162.8,282.5 163.2,282.5 163.2,281.5 163.6,281.5 163.6,280.5 164.0,280.5 164.0,279.5 164.3,279.5 164.3,278.5 164.7,278.5 164.7,277.5 165.1,277.5 165.1,276.5 165.5,276.5 165.5,275.5 165.9,275.5 165.9,274.5 166.4,274.5 166.4,273.5 167.0,273.5 167.0,272.5 167.6,272.5 167.6,271.5 168.2,271.5 168.2,270.5 168.7,270.5 168.7,269.5 169.3,269.5 169.3,268.5 169.9,268.5 169.9,267.5 170.5,267.5 170.5,266.5 171.2,266.5 171.2,265.5 171.8,265.5 171.8,264.5 172.5,264.5 172.5,263.5 173.1,263.5 173.1,262.5 173.8,262.5 173.8,261.5 174.5,261.5 174.5,260.5 175.2,260.5 175.2,259.5 176.0,259.5 176.0,258.5 176.8,258.5 176.8,257.5 177.6,257.5 177.6,256.5 178.4,256.5 178.4,255.5 179.2,255.5 179.2,254.5 179.8,254.5 179.8,253.5 180.4,253.5 180.4,252.5 181.0,252.5 181.0,251.5 181.5,251.5 181.5,250.5 182.1,250.5 182.1,249.5 182.9,249.5 182.9,248.5 183.6,248.5 183.6,247.5 184.4,247.5 184.4,246.5 185.1,246.5 185.1,245.5 185.9,245.5 185.9,244.5 186.7,244.5 186.7,243.5 187.6,243.5 187.6,242.5 188.4,242.5 188.4,241.5 189.2,241.5 189.2,240.5 190.2,240.5 190.2,239.5 191.6,239.5 191.6,238.5 192.9,238.5 192.9,237.5 194.6,237.5 194.6,236.5 196.2,236.5 196.2,235.5 197.9,235.5 197.9,234.5 201.8,234.5 201.8,233.5 204.7,233.5 204.7,232.5 207.1,232.5 207.1,231.5 209.4,231.5 209.4,230.5 211.6,230.5 211.6,229.5 213.9,229.5 213.9,228.5 216.4,228.5 216.4,227.5 219.3,227.5 219.3,226.5 222.2,226.5 222.2,225.5 225.0,225.5 225.0,224.5 228.2,224.5 228.2,223.5 231.5,223.5 231.5,222.5 234.8,222.5 234.8,221.5 237.9,221.5 237.9,220.5 240.5,220.5 240.5,219.5 243.1,219.5 243.1,218.5 245.9,218.5 245.9,217.5 249.9,217.5 249.9,216.5 253.8,216.5 253.8,215.5 256.7,215.5 256.7,214.5 259.2,214.5 259.2,213.5 261.4,213.5 261.4,212.5 263.5,212.5 263.5,211.5 265.5,211.5 265.5,210.5 267.4,210.5 267.4,209.5 269.4,209.5 269.4,208.5 271.3,208.5 271.3,207.5 272.7,207.5 272.7,206.5 274.1,206.5 274.1,205.5 275.4,205.5 275.4,204.5 277.0,204.5 277.0,203.5 278.5,203.5 278.5,202.5 280.1,202.5 280.1,201.5 281.6,201.5 281.6,200.5 299.8,200.5" fill="none" stroke="#a6a6a6" stroke-width="1.05" stroke-linejoin="round"/>
<polyline points="36.5,329.4 147.8,329.4 147.8,328.4 148.7,328.4 148.7,327.4 149.3,327.4 149.3,326.4 149.9,326.4 149.9,325.4 150.5,325.4 150.5,324.4 151.1,324.4 151.1,323.4 151.8,323.4 151.8,322.4 152.5,322.4 152.5,321.4 153.2,321.4 153.2,320.4 153.8,320.4 153.8,319.4 154.4,319.4 154.4,318.4 154.9,318.4 154.9,317.4 155.4,317.4 155.4,316.4 155.9,316.4 155.9,315.4 156.5,315.4 156.5,314.4 157.0,314.4 157.0,313.4 157.6,313.4 157.6,312.4 158.2,312.4 158.2,311.4 158.8,311.4 158.8,310.4 159.3,310.4 159.3,309.4 159.9,309.4 159.9,308.4 160.5,308.4 160.5,307.4 161.1,307.4 161.1,306.4 161.6,306.4 161.6,305.4 162.1,305.4 162.1,304.4 162.6,304.4 162.6,303.4 163.0,303.4 163.0,302.4 163.5,302.4 163.5,301.4 164.0,301.4 164.0,300.4 164.5,300.4 164.5,299.4 164.7,299.4 164.7,298.4 165.0,298.4 165.0,297.4 165.3,297.4 165.3,296.4 165.6,296.4 165.6,295.4 165.9,295.4 165.9,294.4 166.2,294.4 166.2,293.4 166.5,293.4 166.5,292.4 166.9,292.4 166.9,291.4 167.3,291.4 167.3,290.4 167.7,290.4 167.7,289.4 168.2,289.4 168.2,288.4 168.6,288.4 168.6,287.4 169.0,287.4 169.0,286.4 169.5,286.4 169.5,285.4 169.9,285.4 169.9,284.4 170.4,284.4 170.4,283.4 170.9,283.4 170.9,282.4 171.4,282.4 171.4,281.4 171.9,281.4 171.9,280.4 172.5,280.4 172.5,279.4 173.3,279.4 173.3,278.4 174.0,278.4 174.0,277.4 174.7,277.4 174.7,276.4 175.5,276.4 175.5,275.4 176.2,275.4 176.2,274.4 176.9,274.4 176.9,273.4 177.6,273.4 177.6,272.4 178.4,272.4 178.4,271.4 179.1,271.4 179.1,270.4 179.8,270.4 179.8,269.4 180.6,269.4 180.6,268.4 181.4,268.4 181.4,267.4 182.2,267.4 182.2,266.4 183.0,266.4 183.0,265.4 183.9,265.4 183.9,264.4 184.7,264.4 184.7,263.4 185.5,263.4 185.5,262.4 186.5,262.4 186.5,261.4 187.5,261.4 187.5,260.4 188.6,260.4 188.6,259.4 189.6,259.4 189.6,258.4 191.0,258.4 191.0,257.4 192.6,257.4 192.6,256.4 194.2,256.4 194.2,255.4 195.8,255.4 195.8,254.4 197.9,254.4 197.9,253.4 200.3,253.4 200.3,252.4 202.7,252.4 202.7,251.4 205.2,251.4 205.2,250.4 207.7,250.4 207.7,249.4 210.2,249.4 210.2,248.4 212.7,248.4 212.7,247.4 215.3,247.4 215.3,246.4 217.8,246.4 217.8,245.4 220.3,245.4 220.3,244.4 222.9,244.4 222.9,243.4 225.4,243.4 225.4,242.4 228.5,242.4 228.5,241.4 231.8,241.4 231.8,240.4 235.1,240.4 235.1,239.4 238.4,239.4 238.4,238.4 241.6,238.4 241.6,237.4 244.9,237.4 244.9,236.4 248.5,236.4 248.5,235.4 252.3,235.4 252.3,234.4 255.4,234.4 255.4,233.4 256.8,233.4 256.8,232.4 258.3,232.4 258.3,231.4 259.7,231.4 259.7,230.4 261.7,230.4 261.7,229.4 264.2,229.4 264.2,228.4 266.6,228.4 266.6,227.4 269.1,227.4 269.1,226.4 271.4,226.4 271.4,225.4 272.4,225.4 272.4,224.4 273.4,224.4 273.4,223.4 274.5,223.4 274.5,222.4 275.5,222.4 275.5,221.4 276.5,221.4 276.5,220.4 277.6,220.4 277.6,219.4 278.7,219.4 278.7,218.4 279.8,218.4 279.8,217.4 280.9,217.4 280.9,216.4 282.0,216.4 282.0,215.4 283.0,215.4 283.0,214.4 284.0,214.4 284.0,213.4 285.0,213.4 285.0,212.4 286.0,212.4 286.0,211.4 287.4,211.4 287.4,210.4 289.5,210.4 289.5,209.4 289.9,209.4" fill="none" stroke="#a6a6a6" stroke-width="1.05" stroke-linejoin="round"/>
<polyline points="85.2,328.7 96.8,328.7 96.8,327.2 108.0,327.2 113.0,326.8 128.0,326.5 135.0,325.5 139.0,324.5 142.0,323.0 145.8,320.2 149.1,317.6 152.4,314.3 153.7,311.7 155.0,308.5 156.3,305.8 158.5,302.0 161.2,298.5 164.4,292.0 167.7,284.4 170.0,280.0 175.0,271.0 180.0,263.5 185.0,256.0 189.0,251.0 194.2,247.2 199.0,244.5 203.8,242.6 212.8,240.5 220.0,235.0 227.0,233.0 234.6,230.7 244.4,227.4 249.9,226.3 255.0,223.5 260.0,221.5 265.9,219.5 271.0,216.5 276.8,213.5 282.2,208.1 285.5,204.8 288.8,200.4 289.9,199.4" fill="none" stroke="#b0b0b0" stroke-width="0.9"/>
<g fill="#9a9a9a"><circle cx="85.2" cy="328.7" r="1.35"/><circle cx="96.8" cy="327.2" r="1.35"/><circle cx="108.0" cy="327.2" r="1.35"/><circle cx="113.0" cy="326.8" r="1.35"/><circle cx="128.0" cy="326.5" r="1.35"/><circle cx="130.9" cy="326.1" r="1.35"/><circle cx="133.7" cy="325.7" r="1.35"/><circle cx="136.6" cy="325.1" r="1.35"/><circle cx="139.4" cy="324.3" r="1.35"/><circle cx="142.0" cy="323.0" r="1.35"/><circle cx="144.3" cy="321.3" r="1.35"/><circle cx="146.6" cy="319.6" r="1.35"/><circle cx="148.9" cy="317.8" r="1.35"/><circle cx="151.0" cy="315.7" r="1.35"/><circle cx="152.8" cy="313.5" r="1.35"/><circle cx="154.0" cy="310.9" r="1.35"/><circle cx="155.1" cy="308.2" r="1.35"/><circle cx="156.4" cy="305.6" r="1.35"/><circle cx="157.9" cy="303.1" r="1.35"/><circle cx="159.5" cy="300.7" r="1.35"/><circle cx="161.2" cy="298.4" r="1.35"/><circle cx="162.5" cy="295.8" r="1.35"/><circle cx="163.8" cy="293.2" r="1.35"/><circle cx="165.0" cy="290.6" r="1.35"/><circle cx="166.2" cy="287.9" r="1.35"/><circle cx="167.3" cy="285.3" r="1.35"/><circle cx="168.6" cy="282.7" r="1.35"/><circle cx="170.0" cy="280.1" r="1.35"/><circle cx="171.4" cy="277.6" r="1.35"/><circle cx="172.8" cy="275.0" r="1.35"/><circle cx="174.2" cy="272.5" r="1.35"/><circle cx="175.7" cy="270.0" r="1.35"/><circle cx="177.3" cy="267.6" r="1.35"/><circle cx="178.9" cy="265.2" r="1.35"/><circle cx="180.5" cy="262.8" r="1.35"/><circle cx="182.1" cy="260.3" r="1.35"/><circle cx="183.7" cy="257.9" r="1.35"/><circle cx="185.4" cy="255.6" r="1.35"/><circle cx="187.2" cy="253.3" r="1.35"/><circle cx="189.0" cy="251.0" r="1.35"/><circle cx="191.3" cy="249.3" r="1.35"/><circle cx="193.7" cy="247.6" r="1.35"/><circle cx="196.1" cy="246.1" r="1.35"/><circle cx="198.7" cy="244.7" r="1.35"/><circle cx="201.3" cy="243.6" r="1.35"/><circle cx="204.1" cy="242.5" r="1.35"/><circle cx="206.9" cy="241.9" r="1.35"/><circle cx="209.7" cy="241.2" r="1.35"/><circle cx="212.5" cy="240.6" r="1.35"/><circle cx="214.9" cy="238.9" r="1.35"/><circle cx="217.2" cy="237.1" r="1.35"/><circle cx="219.5" cy="235.4" r="1.35"/><circle cx="222.2" cy="234.4" r="1.35"/><circle cx="225.0" cy="233.6" r="1.35"/><circle cx="227.7" cy="232.8" r="1.35"/><circle cx="230.5" cy="231.9" r="1.35"/><circle cx="233.3" cy="231.1" r="1.35"/><circle cx="236.1" cy="230.2" r="1.35"/><circle cx="238.8" cy="229.3" r="1.35"/><circle cx="241.6" cy="228.4" r="1.35"/><circle cx="244.3" cy="227.4" r="1.35"/><circle cx="247.1" cy="226.9" r="1.35"/><circle cx="250.0" cy="226.3" r="1.35"/><circle cx="252.5" cy="224.9" r="1.35"/><circle cx="255.1" cy="223.5" r="1.35"/><circle cx="257.8" cy="222.4" r="1.35"/><circle cx="260.5" cy="221.3" r="1.35"/><circle cx="263.2" cy="220.4" r="1.35"/><circle cx="265.9" cy="219.5" r="1.35"/><circle cx="268.4" cy="218.0" r="1.35"/><circle cx="270.9" cy="216.5" r="1.35"/><circle cx="273.5" cy="215.2" r="1.35"/><circle cx="276.1" cy="213.9" r="1.35"/><circle cx="278.3" cy="212.0" r="1.35"/><circle cx="280.3" cy="210.0" r="1.35"/><circle cx="282.4" cy="207.9" r="1.35"/><circle cx="284.4" cy="205.9" r="1.35"/><circle cx="286.3" cy="203.7" r="1.35"/><circle cx="288.1" cy="201.4" r="1.35"/><circle cx="289.9" cy="199.4" r="1.35"/></g>
<polyline points="46.5,329.0 47.9,329.0 49.3,329.0 50.7,329.0 52.1,329.0 53.5,329.0 54.9,329.0 56.3,329.0 57.7,329.0 59.1,329.0 60.5,329.0 61.9,329.0 63.3,329.0 64.7,329.0 66.1,329.0 67.5,329.0 68.9,329.0 70.3,329.0 71.7,329.0 73.1,329.0 74.5,329.0 75.9,329.0 77.3,329.0 78.7,329.0 80.1,329.0 81.5,329.0 82.9,329.0 84.3,329.0 85.7,329.0 87.1,329.0 88.5,329.0 89.9,329.0 91.3,329.0 92.7,329.0 94.1,329.0 95.5,329.0 96.9,328.9 98.3,328.9 99.7,328.8 101.1,328.8 102.5,328.8 103.9,328.7 105.3,328.7 106.7,328.6 108.1,328.6 109.5,328.5 110.9,328.4 112.3,328.3 113.7,328.1 115.1,328.0 116.5,327.9 117.9,327.7 119.2,327.5 120.6,327.4 122.0,327.1 123.4,326.9 124.8,326.6 126.1,326.3 127.5,326.0 128.8,325.7 130.2,325.2 131.5,324.8 132.8,324.3 134.1,323.7 135.3,323.1 136.5,322.3 137.6,321.5 138.7,320.6 139.7,319.7 140.8,318.7 141.8,317.8 142.8,316.8 143.7,315.8 144.7,314.8 145.6,313.7 146.6,312.7 147.5,311.7 148.5,310.7 149.4,309.6 150.4,308.6 151.3,307.5 152.2,306.5 153.2,305.5 154.1,304.4 155.1,303.4 156.0,302.3 156.9,301.3 157.8,300.2 158.5,299.0 159.3,297.8 160.0,296.7 160.8,295.5 161.5,294.3 162.2,293.1 162.9,291.9 163.6,290.7 164.4,289.5 165.1,288.3 165.8,287.0 166.5,285.8 167.2,284.6 167.9,283.4 168.6,282.2 169.3,281.0 170.1,279.8 170.8,278.6 171.5,277.4 172.2,276.2 173.0,275.0 173.7,273.9 174.5,272.7 175.2,271.5 176.0,270.3 176.7,269.1 177.5,268.0 178.3,266.8 179.1,265.7 179.9,264.5 180.7,263.4 181.5,262.2 182.4,261.1 183.2,260.0 184.0,258.8 184.8,257.7 185.6,256.6 186.5,255.4 187.3,254.3 188.1,253.2 189.0,252.1 189.8,251.0 190.7,249.9 191.6,248.8 192.5,247.7 193.4,246.7 194.5,245.8 195.6,245.0 196.8,244.2 198.0,243.4 199.2,242.7 200.4,242.0 201.6,241.4 202.9,240.8 204.2,240.2 205.4,239.7 206.7,239.2 208.1,238.7 209.4,238.2 210.7,237.8 212.0,237.4 213.4,237.0 214.8,236.7 216.1,236.4 217.5,236.1 218.9,235.9 220.2,235.6 221.6,235.3 223.0,235.1 224.4,234.8 225.7,234.5 227.1,234.3 228.5,234.0 229.9,233.7 231.2,233.4 232.6,233.1 234.0,232.9 235.3,232.6 236.7,232.3 238.1,231.9 239.4,231.5 240.7,231.1 242.1,230.7 243.4,230.2 244.7,229.8 246.1,229.3 247.4,228.8 248.7,228.3 250.0,227.8 251.3,227.3 252.6,226.8 253.9,226.4 255.2,225.8 256.4,225.2 257.6,224.5 258.8,223.8 260.0,223.0 261.2,222.3 262.3,221.5 263.5,220.7 264.6,219.9 265.8,219.1 267.0,218.4 268.2,217.6 269.4,216.9 270.6,216.2 271.8,215.4 273.0,214.7 274.2,214.0 275.4,213.3 276.5,212.5 277.7,211.7 278.9,210.9 280.0,210.1 281.2,209.4 282.3,208.6 283.5,207.8 284.7,207.1 285.9,206.4 287.2,205.8 288.4,205.2 289.5,204.7 290.4,204.3" fill="none" stroke="#000" stroke-width="1.25" stroke-linejoin="round"/>
<rect x="36.5" y="194.8" width="263.3" height="139.6" fill="none" stroke="#3c3c3c" stroke-width="1.1"/>
<line x1="31.1" y1="329.40" x2="36.5" y2="329.40" stroke="#3c3c3c" stroke-width="1"/>
<text transform="translate(26.80,332.50) scale(1,1.06)" text-anchor="end" class="tk">0.0</text>
<line x1="31.1" y1="303.54" x2="36.5" y2="303.54" stroke="#3c3c3c" stroke-width="1"/>
<text transform="translate(26.80,306.64) scale(1,1.06)" text-anchor="end" class="tk">0.2</text>
<line x1="31.1" y1="277.68" x2="36.5" y2="277.68" stroke="#3c3c3c" stroke-width="1"/>
<text transform="translate(26.80,280.78) scale(1,1.06)" text-anchor="end" class="tk">0.4</text>
<line x1="31.1" y1="251.82" x2="36.5" y2="251.82" stroke="#3c3c3c" stroke-width="1"/>
<text transform="translate(26.80,254.92) scale(1,1.06)" text-anchor="end" class="tk">0.6</text>
<line x1="31.1" y1="225.96" x2="36.5" y2="225.96" stroke="#3c3c3c" stroke-width="1"/>
<text transform="translate(26.80,229.06) scale(1,1.06)" text-anchor="end" class="tk">0.8</text>
<line x1="31.1" y1="200.10" x2="36.5" y2="200.10" stroke="#3c3c3c" stroke-width="1"/>
<text transform="translate(26.80,203.20) scale(1,1.06)" text-anchor="end" class="tk">1.0</text>
<line x1="71.72" y1="334.4" x2="71.72" y2="339.6" stroke="#3c3c3c" stroke-width="1"/>
<text transform="translate(71.72,352.40) scale(1,1.06)" text-anchor="middle" class="tk">-<tspan dx="-0.6">6</tspan></text>
<line x1="127.88" y1="334.4" x2="127.88" y2="339.6" stroke="#3c3c3c" stroke-width="1"/>
<text transform="translate(127.88,352.40) scale(1,1.06)" text-anchor="middle" class="tk">-<tspan dx="-0.6">4</tspan></text>
<line x1="184.04" y1="334.4" x2="184.04" y2="339.6" stroke="#3c3c3c" stroke-width="1"/>
<text transform="translate(184.04,352.40) scale(1,1.06)" text-anchor="middle" class="tk">-<tspan dx="-0.6">2</tspan></text>
<line x1="240.50" y1="334.4" x2="240.50" y2="339.6" stroke="#3c3c3c" stroke-width="1"/>
<text transform="translate(240.50,352.40) scale(1,1.06)" text-anchor="middle" class="tk">0</text>
<line x1="296.66" y1="334.4" x2="296.66" y2="339.6" stroke="#3c3c3c" stroke-width="1"/>
<text transform="translate(296.66,352.40) scale(1,1.06)" text-anchor="middle" class="tk">2</text>
<text transform="translate(167.85,189.00) scale(1,1.06)" text-anchor="middle" class="ti">36-45 years</text>
<text transform="translate(6.9,264.60) rotate(-90)" text-anchor="middle" class="yl">Cumulative distribution</text>
<text transform="translate(168.15,364.80) scale(1,1.06)" text-anchor="middle" class="xl">Log (concentration of anti-HCV antibodies + 0.001)</text>
<line x1="336.1" y1="329.4" x2="599.3" y2="329.4" stroke="#a8a8a8" stroke-width="0.9" stroke-dasharray="2.7 1.97"/>
<line x1="336.1" y1="200.1" x2="599.3" y2="200.1" stroke="#a8a8a8" stroke-width="0.9" stroke-dasharray="2.7 1.97"/>
<polyline points="351.8,314.2 431.0,314.2 431.0,313.2 431.5,313.2 431.5,312.2 440.1,312.2 440.1,311.2 442.1,311.2 442.1,310.2 444.1,310.2 444.1,309.2 446.1,309.2 446.1,308.2 447.6,308.2 447.6,307.2 449.1,307.2 449.1,306.2 450.2,306.2 450.2,305.2 451.2,305.2 451.2,304.2 452.1,304.2 452.1,303.2 452.9,303.2 452.9,302.2 453.6,302.2 453.6,301.2 454.2,301.2 454.2,300.2 454.6,300.2 454.6,299.2 455.0,299.2 455.0,298.2 455.5,298.2 455.5,297.2 455.9,297.2 455.9,296.2 456.3,296.2 456.3,295.2 456.8,295.2 456.8,294.2 457.1,294.2 457.1,293.2 457.5,293.2 457.5,292.2 457.9,292.2 457.9,291.2 458.2,291.2 458.2,290.2 458.6,290.2 458.6,289.2 459.0,289.2 459.0,288.2 459.3,288.2 459.3,287.2 459.8,287.2 459.8,286.2 460.5,286.2 460.5,285.2 461.2,285.2 461.2,284.2 461.9,284.2 461.9,283.2 462.6,283.2 462.6,282.2 463.3,282.2 463.3,281.2 463.9,281.2 463.9,280.2 464.6,280.2 464.6,279.2 465.3,279.2 465.3,278.2 465.9,278.2 465.9,277.2 466.6,277.2 466.6,276.2 467.3,276.2 467.3,275.2 467.9,275.2 467.9,274.2 468.6,274.2 468.6,273.2 469.2,273.2 469.2,272.2 469.9,272.2 469.9,271.2 470.5,271.2 470.5,270.2 471.2,270.2 471.2,269.2 471.9,269.2 471.9,268.2 472.5,268.2 472.5,267.2 473.2,267.2 473.2,266.2 473.9,266.2 473.9,265.2 474.5,265.2 474.5,264.2 475.6,264.2 475.6,263.2 477.0,263.2 477.0,262.2 478.3,262.2 478.3,261.2 480.1,261.2 480.1,260.2 480.7,260.2 480.7,259.2 481.3,259.2 481.3,258.2 481.9,258.2 481.9,257.2 482.5,257.2 482.5,256.2 483.1,256.2 483.1,255.2 483.7,255.2 483.7,254.2 484.5,254.2 484.5,253.2 485.5,253.2 485.5,252.2 486.5,252.2 486.5,251.2 487.5,251.2 487.5,250.2 488.7,250.2 488.7,249.2 490.3,249.2 490.3,248.2 491.9,248.2 491.9,247.2 493.4,247.2 493.4,246.2 498.3,246.2 498.3,245.2 503.3,245.2 503.3,244.2 508.2,244.2 508.2,243.2 513.1,243.2 513.1,242.2 516.1,242.2 516.1,241.2 518.6,241.2 518.6,240.2 521.2,240.2 521.2,239.2 524.2,239.2 524.2,238.2 527.3,238.2 527.3,237.2 530.1,237.2 530.1,236.2 531.3,236.2 531.3,235.2 532.5,235.2 532.5,234.2 533.7,234.2 533.7,233.2 534.9,233.2 534.9,232.2 536.6,232.2 536.6,231.2 539.7,231.2 539.7,230.2 544.5,230.2 544.5,229.2 553.3,229.2 553.3,228.2 560.5,228.2 560.5,227.2 563.1,227.2 563.1,226.2 564.4,226.2 564.4,225.2 565.7,225.2 565.7,224.2 567.1,224.2 567.1,223.2 568.4,223.2 568.4,222.2 569.7,222.2 569.7,221.2 570.8,221.2 570.8,220.2 571.8,220.2 571.8,219.2 572.8,219.2 572.8,218.2 573.8,218.2 573.8,217.2 574.8,217.2 574.8,216.2 575.6,216.2 575.6,215.2 576.3,215.2 576.3,214.2 577.1,214.2 577.1,213.2 577.8,213.2 577.8,212.2 578.6,212.2 578.6,211.2 579.3,211.2 579.3,210.2 580.2,210.2 580.2,209.2 581.2,209.2 581.2,208.2 582.2,208.2 582.2,207.2 583.1,207.2 583.1,206.2 583.5,206.2 583.5,205.2 583.9,205.2 583.9,204.2 584.3,204.2 584.3,203.2 584.7,203.2 584.7,202.2 585.5,202.2 585.5,201.2 586.2,201.2 586.2,200.2 599.3,200.2" fill="none" stroke="#a6a6a6" stroke-width="1.05" stroke-linejoin="round"/>
<polyline points="336.1,329.4 455.9,329.4 455.9,328.4 456.2,328.4 456.2,327.4 456.6,327.4 456.6,326.4 456.9,326.4 456.9,325.4 457.2,325.4 457.2,324.4 457.4,324.4 457.4,323.4 457.7,323.4 457.7,322.4 458.0,322.4 458.0,321.4 458.3,321.4 458.3,320.4 458.5,320.4 458.5,319.4 459.0,319.4 459.0,318.4 459.5,318.4 459.5,317.4 460.0,317.4 460.0,316.4 460.5,316.4 460.5,315.4 461.0,315.4 461.0,314.4 461.5,314.4 461.5,313.4 462.0,313.4 462.0,312.4 462.5,312.4 462.5,311.4 463.0,311.4 463.0,310.4 463.5,310.4 463.5,309.4 464.0,309.4 464.0,308.4 464.5,308.4 464.5,307.4 465.0,307.4 465.0,306.4 465.5,306.4 465.5,305.4 466.1,305.4 466.1,304.4 466.7,304.4 466.7,303.4 467.3,303.4 467.3,302.4 467.9,302.4 467.9,301.4 468.5,301.4 468.5,300.4 469.1,300.4 469.1,299.4 469.7,299.4 469.7,298.4 470.3,298.4 470.3,297.4 470.9,297.4 470.9,296.4 471.7,296.4 471.7,295.4 472.4,295.4 472.4,294.4 473.1,294.4 473.1,293.4 473.9,293.4 473.9,292.4 474.6,292.4 474.6,291.4 475.4,291.4 475.4,290.4 476.1,290.4 476.1,289.4 476.9,289.4 476.9,288.4 477.9,288.4 477.9,287.4 478.9,287.4 478.9,286.4 479.9,286.4 479.9,285.4 480.9,285.4 480.9,284.4 481.9,284.4 481.9,283.4 483.0,283.4 483.0,282.4 484.2,282.4 484.2,281.4 485.4,281.4 485.4,280.4 486.6,280.4 486.6,279.4 487.8,279.4 487.8,278.4 488.9,278.4 488.9,277.4 489.9,277.4 489.9,276.4 490.9,276.4 490.9,275.4 491.9,275.4 491.9,274.4 494.7,274.4 494.7,273.4 498.8,273.4 498.8,272.4 506.2,272.4 506.2,271.4 512.0,271.4 512.0,270.4 516.0,270.4 516.0,269.4 519.3,269.4 519.3,268.4 522.1,268.4 522.1,267.4 524.4,267.4 524.4,266.4 526.7,266.4 526.7,265.4 529.1,265.4 529.1,264.4 530.8,264.4 530.8,263.4 532.1,263.4 532.1,262.4 533.4,262.4 533.4,261.4 534.7,261.4 534.7,260.4 536.0,260.4 536.0,259.4 537.3,259.4 537.3,258.4 540.8,258.4 540.8,257.4 544.9,257.4 544.9,256.4 558.6,256.4 558.6,255.4 562.4,255.4 562.4,254.4 564.4,254.4 564.4,253.4 566.4,253.4 566.4,252.4 567.4,252.4 567.4,251.4 568.4,251.4 568.4,250.4 569.4,250.4 569.4,249.4 570.4,249.4 570.4,248.4 571.4,248.4 571.4,247.4 572.4,247.4 572.4,246.4 573.4,246.4 573.4,245.4 574.4,245.4 574.4,244.4 575.4,244.4 575.4,243.4 576.4,243.4 576.4,242.4 577.2,242.4 577.2,241.4 577.9,241.4 577.9,240.4 578.7,240.4 578.7,239.4 579.4,239.4 579.4,238.4 580.2,238.4 580.2,237.4 580.9,237.4 580.9,236.4 581.5,236.4 581.5,235.4 581.8,235.4 581.8,234.4 582.1,234.4 582.1,233.4 582.4,233.4 582.4,232.4 582.7,232.4 582.7,231.4 583.0,231.4 583.0,230.4 583.3,230.4 583.3,229.4 583.6,229.4 583.6,228.4 583.9,228.4 583.9,227.4 584.3,227.4 584.3,226.4 584.7,226.4 584.7,225.4 585.1,225.4 585.1,224.4 585.5,224.4 585.5,223.4 585.8,223.4 585.8,222.4 586.2,222.4 586.2,221.4 586.6,221.4 586.6,220.4 587.0,220.4 587.0,219.4 587.3,219.4 587.3,218.4 587.7,218.4 587.7,217.4 588.0,217.4 588.0,216.4 588.4,216.4 588.4,215.4 588.9,215.4 588.9,214.4 589.5,214.4" fill="none" stroke="#a6a6a6" stroke-width="1.05" stroke-linejoin="round"/>
<polyline points="385.2,328.5 432.1,327.7 437.5,326.6 441.9,324.5 445.2,322.8 448.5,321.2 451.7,319.5 454.5,317.4 458.6,311.5 461.5,305.8 463.4,300.1 465.3,296.3 470.0,289.0 475.0,281.0 480.0,274.0 485.0,267.0 490.9,262.5 499.1,260.7 504.5,259.7 514.1,257.7 520.9,254.3 527.7,252.9 530.0,250.6 537.6,246.8 543.4,243.9 549.1,243.5 556.7,242.0 562.4,241.0 568.2,239.1 573.2,234.2 576.4,229.3 579.7,224.4 583.0,219.5 584.6,214.6 586.3,209.7 587.9,204.8 589.5,199.9" fill="none" stroke="#b0b0b0" stroke-width="0.9"/>
<g fill="#9a9a9a"><circle cx="385.2" cy="328.5" r="1.35"/><circle cx="432.1" cy="327.7" r="1.35"/><circle cx="437.5" cy="326.6" r="1.35"/><circle cx="441.9" cy="324.5" r="1.35"/><circle cx="432.1" cy="327.7" r="1.35"/><circle cx="434.9" cy="327.1" r="1.35"/><circle cx="437.8" cy="326.5" r="1.35"/><circle cx="440.4" cy="325.2" r="1.35"/><circle cx="443.0" cy="323.9" r="1.35"/><circle cx="445.6" cy="322.6" r="1.35"/><circle cx="448.2" cy="321.4" r="1.35"/><circle cx="450.7" cy="320.0" r="1.35"/><circle cx="453.1" cy="318.4" r="1.35"/><circle cx="455.2" cy="316.4" r="1.35"/><circle cx="456.8" cy="314.0" r="1.35"/><circle cx="458.5" cy="311.6" r="1.35"/><circle cx="459.8" cy="309.1" r="1.35"/><circle cx="461.2" cy="306.5" r="1.35"/><circle cx="462.2" cy="303.8" r="1.35"/><circle cx="463.1" cy="301.0" r="1.35"/><circle cx="464.3" cy="298.4" r="1.35"/><circle cx="465.6" cy="295.8" r="1.35"/><circle cx="467.2" cy="293.4" r="1.35"/><circle cx="468.8" cy="290.9" r="1.35"/><circle cx="470.3" cy="288.5" r="1.35"/><circle cx="471.9" cy="286.0" r="1.35"/><circle cx="473.4" cy="283.6" r="1.35"/><circle cx="474.9" cy="281.1" r="1.35"/><circle cx="476.6" cy="278.8" r="1.35"/><circle cx="478.3" cy="276.4" r="1.35"/><circle cx="480.0" cy="274.0" r="1.35"/><circle cx="481.7" cy="271.7" r="1.35"/><circle cx="483.3" cy="269.3" r="1.35"/><circle cx="485.0" cy="267.0" r="1.35"/><circle cx="487.3" cy="265.2" r="1.35"/><circle cx="489.7" cy="263.5" r="1.35"/><circle cx="492.2" cy="262.2" r="1.35"/><circle cx="495.0" cy="261.6" r="1.35"/><circle cx="497.9" cy="261.0" r="1.35"/><circle cx="500.7" cy="260.4" r="1.35"/><circle cx="503.6" cy="259.9" r="1.35"/><circle cx="506.4" cy="259.3" r="1.35"/><circle cx="509.2" cy="258.7" r="1.35"/><circle cx="512.1" cy="258.1" r="1.35"/><circle cx="514.9" cy="257.3" r="1.35"/><circle cx="517.4" cy="256.0" r="1.35"/><circle cx="520.0" cy="254.7" r="1.35"/><circle cx="522.8" cy="253.9" r="1.35"/><circle cx="525.6" cy="253.3" r="1.35"/><circle cx="528.3" cy="252.3" r="1.35"/><circle cx="530.4" cy="250.4" r="1.35"/><circle cx="533.0" cy="249.1" r="1.35"/><circle cx="535.6" cy="247.8" r="1.35"/><circle cx="538.2" cy="246.5" r="1.35"/><circle cx="540.8" cy="245.2" r="1.35"/><circle cx="543.4" cy="243.9" r="1.35"/><circle cx="546.3" cy="243.7" r="1.35"/><circle cx="549.1" cy="243.5" r="1.35"/><circle cx="552.0" cy="242.9" r="1.35"/><circle cx="554.8" cy="242.4" r="1.35"/><circle cx="557.7" cy="241.8" r="1.35"/><circle cx="560.5" cy="241.3" r="1.35"/><circle cx="563.4" cy="240.7" r="1.35"/><circle cx="566.1" cy="239.8" r="1.35"/><circle cx="568.7" cy="238.6" r="1.35"/><circle cx="570.8" cy="236.6" r="1.35"/><circle cx="572.8" cy="234.5" r="1.35"/><circle cx="574.5" cy="232.2" r="1.35"/><circle cx="576.1" cy="229.8" r="1.35"/><circle cx="577.7" cy="227.3" r="1.35"/><circle cx="579.3" cy="224.9" r="1.35"/><circle cx="581.0" cy="222.5" r="1.35"/><circle cx="582.6" cy="220.1" r="1.35"/><circle cx="583.7" cy="217.5" r="1.35"/><circle cx="584.6" cy="214.7" r="1.35"/><circle cx="585.5" cy="212.0" r="1.35"/><circle cx="586.5" cy="209.2" r="1.35"/><circle cx="587.4" cy="206.5" r="1.35"/><circle cx="588.3" cy="203.7" r="1.35"/><circle cx="589.2" cy="201.0" r="1.35"/><circle cx="589.5" cy="199.9" r="1.35"/></g>
<polyline points="345.4,329.1 346.8,329.1 348.2,329.1 349.6,329.1 351.0,329.1 352.4,329.1 353.8,329.1 355.2,329.1 356.6,329.1 358.0,329.1 359.4,329.1 360.8,329.1 362.2,329.1 363.6,329.1 365.0,329.1 366.4,329.1 367.8,329.1 369.2,329.1 370.6,329.1 372.0,329.1 373.4,329.1 374.8,329.1 376.2,329.0 377.6,329.0 379.0,329.0 380.4,329.0 381.8,329.0 383.2,329.0 384.6,329.0 386.0,329.0 387.4,329.0 388.8,329.0 390.2,329.0 391.6,329.0 393.0,329.0 394.4,329.0 395.8,329.0 397.2,329.0 398.6,329.0 400.0,329.0 401.4,329.0 402.8,329.0 404.2,329.0 405.6,329.0 407.0,328.9 408.4,328.8 409.8,328.8 411.2,328.7 412.6,328.6 414.0,328.5 415.4,328.3 416.8,328.2 418.2,328.0 419.5,327.8 420.9,327.6 422.3,327.3 423.7,327.1 425.0,326.8 426.4,326.4 427.7,326.1 429.1,325.7 430.4,325.2 431.7,324.7 433.0,324.2 434.3,323.7 435.6,323.1 436.8,322.5 438.0,321.7 439.2,320.9 440.3,320.1 441.4,319.3 442.5,318.5 443.6,317.6 444.7,316.7 445.8,315.8 446.9,314.9 447.9,314.0 448.9,313.0 449.9,312.1 450.9,311.1 451.9,310.1 452.9,309.1 453.8,308.0 454.8,307.0 455.8,306.0 456.8,305.0 457.7,304.0 458.7,303.0 459.7,302.0 460.6,301.0 461.5,299.9 462.4,298.8 463.3,297.7 464.1,296.6 464.9,295.5 465.8,294.3 466.6,293.2 467.4,292.0 468.1,290.9 468.8,289.7 469.6,288.5 470.3,287.3 471.0,286.1 471.7,284.9 472.5,283.7 473.2,282.5 474.1,281.4 474.9,280.3 475.7,279.1 476.6,278.0 477.4,276.9 478.2,275.8 479.1,274.6 479.9,273.5 480.7,272.4 481.5,271.2 482.3,270.1 483.2,269.0 484.0,267.8 484.8,266.7 485.7,265.6 486.6,264.5 487.5,263.5 488.4,262.4 489.4,261.4 490.5,260.5 491.5,259.6 492.6,258.7 493.7,257.8 494.9,257.1 496.1,256.5 497.3,255.8 498.6,255.2 499.9,254.6 501.2,254.1 502.5,253.7 503.8,253.2 505.2,252.8 506.5,252.4 507.9,252.1 509.2,251.7 510.6,251.4 511.9,251.1 513.3,250.8 514.7,250.5 516.1,250.3 517.4,250.1 518.8,249.8 520.2,249.6 521.6,249.4 523.0,249.3 524.4,249.1 525.8,249.0 527.2,248.8 528.5,248.6 529.9,248.4 531.3,248.2 532.7,247.9 534.0,247.6 535.4,247.3 536.8,247.0 538.1,246.6 539.4,246.2 540.8,245.7 542.1,245.2 543.4,244.7 544.7,244.2 545.9,243.6 547.2,242.9 548.4,242.3 549.6,241.6 550.8,240.8 552.0,240.1 553.1,239.3 554.3,238.5 555.4,237.6 556.5,236.8 557.6,235.9 558.6,235.0 559.7,234.0 560.7,233.1 561.6,232.0 562.5,231.0 563.4,229.9 564.3,228.8 565.2,227.7 566.1,226.6 566.9,225.5 567.8,224.4 568.6,223.3 569.5,222.2 570.3,221.1 571.2,220.0 572.2,219.0 573.2,218.1 574.2,217.1 575.3,216.2 576.4,215.3 577.4,214.4 578.5,213.5 579.6,212.7 580.7,211.8 581.9,211.0 583.0,210.1 584.1,209.3 585.3,208.6 586.5,207.9 587.8,207.3 589.5,206.4" fill="none" stroke="#000" stroke-width="1.25" stroke-linejoin="round"/>
<rect x="336.1" y="194.8" width="263.2" height="139.6" fill="none" stroke="#3c3c3c" stroke-width="1.1"/>
<line x1="330.7" y1="329.40" x2="336.1" y2="329.40" stroke="#3c3c3c" stroke-width="1"/>
<text transform="translate(326.40,332.50) scale(1,1.06)" text-anchor="end" class="tk">0.0</text>
<line x1="330.7" y1="303.54" x2="336.1" y2="303.54" stroke="#3c3c3c" stroke-width="1"/>
<text transform="translate(326.40,306.64) scale(1,1.06)" text-anchor="end" class="tk">0.2</text>
<line x1="330.7" y1="277.68" x2="336.1" y2="277.68" stroke="#3c3c3c" stroke-width="1"/>
<text transform="translate(326.40,280.78) scale(1,1.06)" text-anchor="end" class="tk">0.4</text>
<line x1="330.7" y1="251.82" x2="336.1" y2="251.82" stroke="#3c3c3c" stroke-width="1"/>
<text transform="translate(326.40,254.92) scale(1,1.06)" text-anchor="end" class="tk">0.6</text>
<line x1="330.7" y1="225.96" x2="336.1" y2="225.96" stroke="#3c3c3c" stroke-width="1"/>
<text transform="translate(326.40,229.06) scale(1,1.06)" text-anchor="end" class="tk">0.8</text>
<line x1="330.7" y1="200.10" x2="336.1" y2="200.10" stroke="#3c3c3c" stroke-width="1"/>
<text transform="translate(326.40,203.20) scale(1,1.06)" text-anchor="end" class="tk">1.0</text>
<line x1="371.00" y1="334.4" x2="371.00" y2="339.6" stroke="#3c3c3c" stroke-width="1"/>
<text transform="translate(371.00,352.40) scale(1,1.06)" text-anchor="middle" class="tk">-<tspan dx="-0.6">6</tspan></text>
<line x1="427.10" y1="334.4" x2="427.10" y2="339.6" stroke="#3c3c3c" stroke-width="1"/>
<text transform="translate(427.10,352.40) scale(1,1.06)" text-anchor="middle" class="tk">-<tspan dx="-0.6">4</tspan></text>
<line x1="483.20" y1="334.4" x2="483.20" y2="339.6" stroke="#3c3c3c" stroke-width="1"/>
<text transform="translate(483.20,352.40) scale(1,1.06)" text-anchor="middle" class="tk">-<tspan dx="-0.6">2</tspan></text>
<line x1="539.60" y1="334.4" x2="539.60" y2="339.6" stroke="#3c3c3c" stroke-width="1"/>
<text transform="translate(539.60,352.40) scale(1,1.06)" text-anchor="middle" class="tk">0</text>
<line x1="595.70" y1="334.4" x2="595.70" y2="339.6" stroke="#3c3c3c" stroke-width="1"/>
<text transform="translate(595.70,352.40) scale(1,1.06)" text-anchor="middle" class="tk">2</text>
<text transform="translate(467.40,189.00) scale(1,1.06)" text-anchor="middle" class="ti">46-55 years</text>
<text transform="translate(467.70,364.80) scale(1,1.06)" text-anchor="middle" class="xl">Log (concentration of anti-HCV antibodies + 0.001)</text>
</svg>
</body></html>
